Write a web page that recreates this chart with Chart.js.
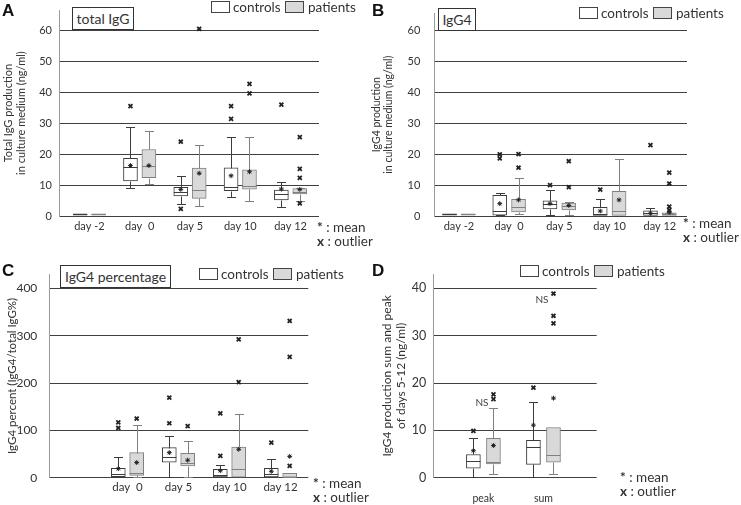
<!DOCTYPE html>
<html>
<head>
<meta charset="utf-8">
<script src="https://cdn.jsdelivr.net/npm/chart.js@4.4.1/dist/chart.umd.min.js"></script>
<style>
  body { margin: 0; background: #fff; font-family: Lato, sans-serif; color: #333; }
  #fig { position: relative; width: 741px; height: 505px; overflow: hidden; }
  canvas { position: absolute; }
  .letter { position: absolute; font: bold 17px "Liberation Sans", Arial, sans-serif; color: #111; line-height: 1; }
  .title { position: absolute; border: 1px solid #333; font-size: 14px; line-height: 21px; height: 23px; box-sizing: border-box; text-align: center; white-space: nowrap; background: #fff; }
  .legend { position: absolute; height: 14px; font-size: 13.5px; line-height: 13px; white-space: nowrap; }
  .legend span { position: absolute; top: 0; }
  .legend i { position: absolute; top: 0; width: 19px; height: 12px; box-sizing: border-box; border: 1px solid #444; }
  .note { position: absolute; font-size: 13.5px; line-height: 14px; white-space: nowrap; }
</style>
</head>
<body>
<div id="fig">
  <canvas id="cA" width="370" height="250" style="left:0;top:0"></canvas>
  <canvas id="cB" width="371" height="250" style="left:370px;top:0"></canvas>
  <canvas id="cC" width="370" height="255" style="left:0;top:250px"></canvas>
  <canvas id="cD" width="371" height="255" style="left:370px;top:250px"></canvas>

  <div class="letter" style="left:2px;top:2px">A</div>
  <div class="letter" style="left:372px;top:2px">B</div>
  <div class="letter" style="left:2px;top:262px">C</div>
  <div class="letter" style="left:372px;top:262px">D</div>

  <div class="title" style="left:72px;top:7px;width:62px">total IgG</div>
  <div class="title" style="left:438px;top:8px;width:38px">IgG4</div>
  <div class="title" style="left:60px;top:265px;width:111px">IgG4 percentage</div>

  <div class="legend" style="left:211px;top:1px"><i style="left:0"></i><span style="left:22px">controls</span><i style="left:74px;background:#d9d9d9"></i><span style="left:97px">patients</span></div>
  <div class="legend" style="left:579px;top:7px"><i style="left:0"></i><span style="left:22px">controls</span><i style="left:74px;background:#d9d9d9"></i><span style="left:97px">patients</span></div>
  <div class="legend" style="left:199px;top:268px"><i style="left:0"></i><span style="left:22px">controls</span><i style="left:74px;background:#d9d9d9"></i><span style="left:97px">patients</span></div>
  <div class="legend" style="left:520px;top:265px"><i style="left:0"></i><span style="left:22px">controls</span><i style="left:74px;background:#d9d9d9"></i><span style="left:97px">patients</span></div>

  <div class="note" style="left:317px;top:220px"><b>*</b> : mean<br><b>x</b> : outlier</div>
  <div class="note" style="left:683px;top:216px"><b>*</b> : mean<br><b>x</b> : outlier</div>
  <div class="note" style="left:313px;top:476px"><b>*</b> : mean<br><b>x</b> : outlier</div>
  <div class="note" style="left:620px;top:470px"><b>*</b> : mean<br><b>x</b> : outlier</div>
</div>
<script>
// ---- data ----
const days = ["day -2", "day  0", "day 5", "day 10", "day 12"];
const daysC = ["day  0", "day 5", "day 10", "day 12"];
const sumPeak = ["peak", "sum"];

const ticksA = [0, 10, 20, 30, 40, 50, 60];
const ticksB = [0, 10, 20, 30, 40, 50, 60];
const ticksC = [0, 100, 200, 300, 400];
const ticksD = [0, 10, 20, 30, 40];

// box rows: [min, q1, median, q3, max, mean]
const aControls = [
  [0.3, 0.3, 0.5, 0.7, 0.7, null],
  [8.9, 11.3, 15.9, 18.6, 28.8, 16.3],
  [3.8, 6.5, 7.6, 9.3, 12.9, 8.6],
  [6.2, 8.2, 9.5, 15.6, 25.4, 13.0],
  [3.0, 5.2, 7.0, 8.4, 11.1, 8.7]
];
const aPatients = [
  [0.3, 0.3, 0.5, 0.7, 0.7, null],
  [10.2, 12.4, 16.2, 21.5, 27.4, 16.3],
  [3.2, 5.7, 8.4, 15.5, 22.9, 13.8],
  [4.7, 8.7, 9.6, 14.9, 25.4, 14.3],
  [4.8, 7.1, 7.9, 8.9, 9.1, 8.6]
];
const aControlsOut = [[], [35.5], [24.0, 2.3], [35.5, 31.4], [36.0]];
const aPatientsOut = [[], [], [60.5], [42.7, 39.6], [25.5, 15.2, 12.3, 4.1]];

const bControls = [
  [0.3, 0.3, 0.5, 0.7, 0.7, null],
  [0.2, 0.3, 1.7, 6.7, 7.5, 4.0],
  [0.3, 2.3, 3.8, 4.9, 8.4, 4.0],
  [0.2, 0.2, 0.6, 2.8, 5.4, 1.6],
  [0.2, 0.2, 0.9, 1.7, 2.5, 0.9]
];
const bPatients = [
  [0.3, 0.3, 0.5, 0.7, 0.7, null],
  [0.6, 1.3, 2.8, 5.4, 12.2, 5.2],
  [0.3, 2.0, 3.1, 4.2, 4.5, 3.4],
  [0.2, 0.2, 1.6, 8.0, 18.3, 5.2],
  [0.2, 0.2, 0.6, 1.0, 1.1, 1.2]
];
const bControlsOut = [[], [19.9, 18.6], [10.0], [8.5], [22.9]];
const bPatientsOut = [[], [20.0, 15.6], [17.7, 9.3], [], [14.0, 10.5, 3.0, 1.9]];

const cControls = [
  [1.5, 2, 7, 20, 44, 19],
  [1, 33, 43, 63.5, 89, 53],
  [1, 1.5, 5.5, 17.7, 26, 14.8],
  [1, 1.5, 8.5, 20, 38.5, 13.5]
];
const cPatients = [
  [2, 5, 9, 53, 112, 32],
  [1, 25, 32, 51.5, 77, 37],
  [1, 1, 18, 64.5, 134, 60],
  [1, 1, 1.5, 9, 9, 45]
];
const cControlsOut = [[117, 105], [169, 115], [136, 46], [74]];
const cPatientsOut = [[125], [109], [292, 202], [331, 255, 25]];

const dControls = [
  [0.2, 2.0, 3.6, 4.9, 8.3, 5.7],
  [0.2, 2.8, 6.5, 7.9, 15.9, 11.1]
];
const dPatients = [
  [0.8, 2.9, 3.4, 8.3, 14.7, 6.8],
  [0.8, 3.3, 4.8, 10.6, 10.6, 16.8]
];
const dControlsOut = [[9.9], [19.0]];
const dPatientsOut = [[17.6, 16.6], [38.9, 34.2, 32.6]];
const dNs = [[0, 15.8], [1, 37.5]];

// ---- styles ----
const CTRL_LINE = "#3c3c3c";
const PAT_LINE = "#808080";
const PAT_FILL = "#d9d9d9";
const FONT = "Lato";

// whiskers + medians drawn right after each box dataset, NS marks at the end
const boxPlugin = {
  id: "whiskers",
  afterDatasetDraw(chart, args) {
    const ds = chart.data.datasets[args.index];
    if (!ds.stats) return;
    const { ctx } = chart;
    const y = chart.scales.y;
    ctx.save();
    ctx.strokeStyle = ds.borderColor;
    ctx.lineWidth = 1;
    args.meta.data.forEach((bar, i) => {
      const [min, q1, med, q3, max] = ds.stats[i];
      const x = Math.round(bar.x) + 0.5;
      const half = bar.width / 2;
      const cap = 4.5;
      const py = v => Math.round(y.getPixelForValue(v)) + 0.5;
      ctx.beginPath();
      if (max > q3) {
        ctx.moveTo(x, py(q3)); ctx.lineTo(x, py(max));
        ctx.moveTo(x - cap, py(max)); ctx.lineTo(x + cap, py(max));
      }
      if (min < q1) {
        ctx.moveTo(x, py(q1)); ctx.lineTo(x, py(min));
        ctx.moveTo(x - cap, py(min)); ctx.lineTo(x + cap, py(min));
      }
      ctx.moveTo(bar.x - half, py(med)); ctx.lineTo(bar.x + half, py(med));
      ctx.stroke();
    });
    ctx.restore();
  },
  afterDatasetsDraw(chart, args, opts) {
    if (!opts.ns) return;
    const { ctx, scales: { x, y } } = chart;
    ctx.save();
    ctx.font = "10px " + FONT;
    ctx.fillStyle = "#444";
    ctx.textAlign = "right";
    ctx.textBaseline = "middle";
    opts.ns.forEach(([cat, v]) => {
      ctx.fillText("NS", x.getPixelForValue(cat + opts.off) - 5, y.getPixelForValue(v));
    });
    ctx.restore();
  }
};

function makePanel(p) {
  const boxData = (rows, sign) => rows.map((r, i) => ({ x: i + sign * p.off, y: [r[1], r[3]] }));
  const meanData = (rows, sign) => rows.filter(r => r[5] != null)
    .map(r => ({ x: rows.indexOf(r) + sign * p.off, y: r[5] }));
  const outData = (outs, sign) => outs.flatMap((vals, i) => vals.map(v => ({ x: i + sign * p.off, y: v })));

  new Chart(document.getElementById(p.id), {
    type: "bar",
    data: {
      datasets: [
        {
          type: "scatter", order: 0, clip: false,
          data: meanData(p.ctrl, -1).concat(meanData(p.pat, 1)),
          pointStyle: "star", radius: 2.4, borderColor: "#222", borderWidth: 1
        },
        {
          type: "scatter", order: 0, clip: false,
          data: outData(p.ctrlOut, -1).concat(outData(p.patOut, 1)),
          pointStyle: "crossRot", radius: 2.8, borderColor: "#222", borderWidth: 1.8
        },
        {
          label: "controls", order: 1, stats: p.ctrl,
          data: boxData(p.ctrl, -1),
          backgroundColor: "#fff", borderColor: CTRL_LINE, borderWidth: 1,
          borderSkipped: false, grouped: false, barThickness: 14
        },
        {
          label: "patients", order: 1, stats: p.pat,
          data: boxData(p.pat, 1),
          backgroundColor: PAT_FILL, borderColor: PAT_LINE, borderWidth: 1,
          borderSkipped: false, grouped: false, barThickness: 14
        }
      ]
    },
    options: {
      responsive: false,
      animation: false,
      events: [],
      layout: {
        autoPadding: false,
        padding: { left: 0, top: p.area.t, right: p.w - p.area.r, bottom: 0 }
      },
      plugins: {
        legend: { display: false },
        tooltip: { enabled: false },
        whiskers: { ns: p.ns, off: p.off }
      },
      scales: {
        x: {
          type: "linear", offset: false, min: p.xMin, max: p.xMax,
          grid: { display: false, drawTicks: false }, border: { display: false },
          afterBuildTicks: s => { s.ticks = p.cats.map((c, i) => ({ value: i })); },
          afterFit: s => { s.height = p.h - p.area.b; s.paddingLeft = 0; s.paddingRight = 0; },
          ticks: {
            autoSkip: false, maxRotation: 0, padding: p.xPad, color: "#333",
            font: { family: FONT, size: p.xFont },
            callback: v => p.cats[Math.round(v)]
          }
        },
        y: {
          min: 0, max: p.yMax,
          afterBuildTicks: s => { s.ticks = p.yTicks.map(v => ({ value: v })); },
          afterFit: s => { s.width = p.area.l; s.paddingTop = 0; s.paddingBottom = 0; },
          grid: { color: "#404040", lineWidth: 1, drawTicks: false },
          border: { color: "#9a9a9a", width: 1 },
          ticks: { padding: p.yPad, color: "#333", font: { family: FONT, size: p.yFont } },
          title: {
            display: true, text: p.yTitle, color: "#333",
            font: { family: FONT, size: p.tFont, lineHeight: 1.2 },
            padding: { top: p.tPad, bottom: 0 }
          }
        }
      }
    },
    plugins: [boxPlugin]
  });
}

makePanel({
  id: "cA", w: 370, h: 250, area: { l: 59, r: 319, t: 10.2, b: 216 },
  cats: days, yTicks: ticksA, yMax: 66.5, xMin: -0.604, xMax: 4.565, off: 0.183,
  ctrl: aControls, pat: aPatients, ctrlOut: aControlsOut, patOut: aPatientsOut,
  yTitle: ["Total IgG production", "in culture medium (ng/ml)"],
  xPad: 4, xFont: 11, yPad: 7, yFont: 11, tFont: 11, tPad: 2
});
makePanel({
  id: "cB", w: 371, h: 250, area: { l: 64.3, r: 317, t: 13.3, b: 216 },
  cats: days, yTicks: ticksB, yMax: 65.5, xMin: -0.49, xMax: 4.54, off: 0.187,
  ctrl: bControls, pat: bPatients, ctrlOut: bControlsOut, patOut: bPatientsOut,
  yTitle: ["IgG4 production", "in culture medium (ng/ml)"],
  xPad: 4, xFont: 11, yPad: 14, yFont: 11, tFont: 10.5, tPad: 0
});
makePanel({
  id: "cC", w: 370, h: 255, area: { l: 49.3, r: 308.3, t: 24.1, b: 227.7 },
  cats: daysC, yTicks: ticksC, yMax: 430, xMin: -1.533, xMax: 3.545, off: 0.18,
  ctrl: cControls, pat: cPatients, ctrlOut: cControlsOut, patOut: cPatientsOut,
  yTitle: "IgG4 percent (IgG4/total IgG%)",
  xPad: 3, xFont: 11.5, yPad: 12, yFont: 12, tFont: 11.5, tPad: 5
});
makePanel({
  id: "cD", w: 371, h: 255, area: { l: 63.3, r: 226.7, t: 24.1, b: 227.7 },
  cats: sumPeak, yTicks: ticksD, yMax: 43, xMin: -0.835, xMax: 1.887, off: 0.167,
  ctrl: dControls, pat: dPatients, ctrlOut: dControlsOut, patOut: dPatientsOut, ns: dNs,
  yTitle: ["IgG4 production sum and peak", "of days 5-12 (ng/ml)"],
  xPad: 15, xFont: 10.5, yPad: 7, yFont: 12.5, tFont: 12, tPad: 10
});
</script>
</body>
</html>
